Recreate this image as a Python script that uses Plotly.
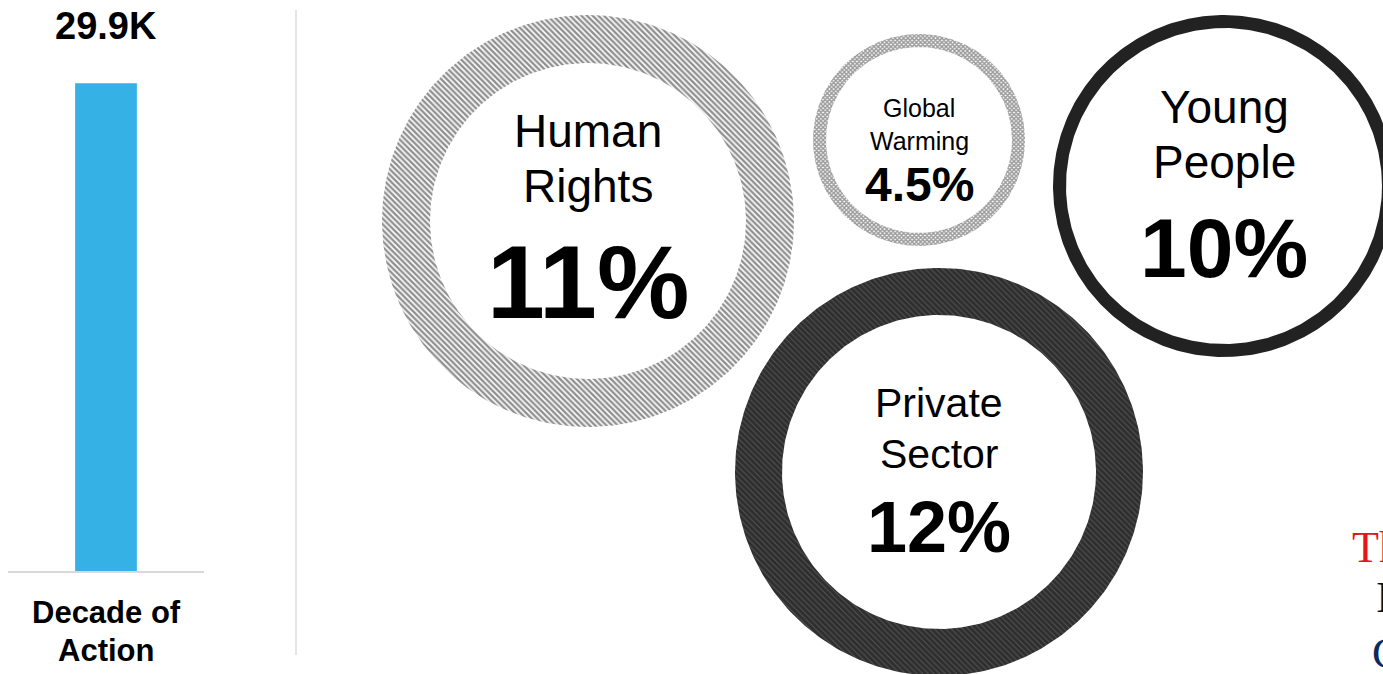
import numpy as np
import plotly.graph_objects as go

W, H = 1383, 674

# ---- data ----
bar_categories = ["Decade of Action"]
bar_values = [29.9]            # thousands
bar_labels = ["29.9K"]

topics = ["Human Rights", "Global Warming", "Young People", "Private Sector"]
topic_pct = [11, 4.5, 10, 12]

side_lines = ["The", "In", "Co"]
side_colors = ["#e8141b", "#111111", "#0d2a5c"]

# ---- layout / style (positions in the pixel-scaled axis) ----
bubble_geom = {
    "Human Rights":   dict(cx=588, cy=221, r=206, ring=48, fs=46, pfs=104, off=(-90, -35, 61)),
    "Global Warming": dict(cx=919, cy=140, r=106, ring=13, fs=25, pfs=48, off=(-32, 1, 44)),
    "Young People":   dict(cx=1224, cy=186, r=171, ring=13, fs=46, pfs=84, off=(-79, -24, 62)),
    "Private Sector": dict(cx=939, cy=472, r=204, ring=47, fs=41, pfs=72, off=(-69, -18, 55)),
}
bubble_style = {
    "Human Rights":   dict(fillcolor="white", fillpattern=dict(shape="\\", fgcolor="#222222", bgcolor="white", size=4, solidity=0.6)),
    "Global Warming": dict(fillcolor="white", fillpattern=dict(shape="x", fgcolor="#333333", bgcolor="white", size=3, solidity=0.7)),
    "Young People":   dict(fillcolor="#222222"),
    "Private Sector": dict(fillcolor="#2e2e2e", fillpattern=dict(shape="\\", fgcolor="#7a7a7a", bgcolor="#2e2e2e", size=4, solidity=0.25)),
}

FONT = "Liberation Sans, Arial, Helvetica, sans-serif"

fig = go.Figure()

# bar chart
fig.add_trace(go.Bar(
    x=bar_categories, y=bar_values, width=0.315,
    marker=dict(color="#35b1e6", line=dict(width=0)),
    xaxis="x", yaxis="y", hoverinfo="skip", showlegend=False,
))

# bubbles (rings drawn as outer circle with reversed inner circle -> hole)
t = np.linspace(0, 2 * np.pi, 361)
annotations = []
for name, pct in zip(topics, topic_pct):
    g = bubble_geom[name]
    ro, ri = g["r"], g["r"] - g["ring"]
    xs = np.concatenate([g["cx"] + ro * np.cos(t), g["cx"] + ri * np.cos(t[::-1])])
    ys = np.concatenate([g["cy"] + ro * np.sin(t), g["cy"] + ri * np.sin(t[::-1])])
    st = bubble_style[name]
    kw = dict(fillcolor=st["fillcolor"])
    if "fillpattern" in st:
        kw["fillpattern"] = st["fillpattern"]
    fig.add_trace(go.Scatter(
        x=xs, y=ys, mode="lines", fill="toself", line=dict(width=0),
        xaxis="x2", yaxis="y2", hoverinfo="skip", showlegend=False, **kw,
    ))
    words = name.split(" ")
    pct_txt = f"{pct:g}%"
    for i, (txt, size, bold) in enumerate([(words[0], g["fs"], False), (words[1], g["fs"], False), (pct_txt, g["pfs"], True)]):
        annotations.append(dict(
            x=g["cx"], y=g["cy"] + g["off"][i], xref="x2", yref="y2",
            text=f"<b>{txt}</b>" if bold else txt, showarrow=False,
            xanchor="center", yanchor="middle",
            font=dict(family=FONT, size=size, color="black"),
        ))

# bar value label and category label
annotations.append(dict(x=bar_categories[0], y=(H - 26) / H, xref="x", yref="paper",
                        text=f"<b>{bar_labels[0]}</b>", showarrow=False,
                        yanchor="middle", font=dict(family=FONT, size=38, color="black")))
cat_words = bar_categories[0].split(" ")
cat_lines = [" ".join(cat_words[:2]), " ".join(cat_words[2:])]
for ln, ypix in zip(cat_lines, [612, 650]):
    annotations.append(dict(x=bar_categories[0], y=(H - ypix) / H, xref="x", yref="paper",
                            text=f"<b>{ln}</b>", showarrow=False, yanchor="middle",
                            font=dict(family=FONT, size=31, color="black")))

# partially visible text at right edge
for ln, col, ypix, xpix in zip(side_lines, side_colors, [547, 597, 653], [1350, 1374, 1370]):
    annotations.append(dict(x=xpix, y=ypix, xref="x2", yref="y2", text=ln, showarrow=False,
                            xanchor="left", yanchor="middle",
                            font=dict(family="Liberation Serif, Times New Roman, serif", size=44, color=col)))

fig.update_layout(
    width=W, height=H, margin=dict(l=0, r=0, t=0, b=0),
    paper_bgcolor="white", plot_bgcolor="rgba(0,0,0,0)",
    showlegend=False, annotations=annotations,
    xaxis=dict(domain=[8 / W, 204 / W], range=[-0.5, 0.5], type="category",
               showline=True, linecolor="#d9d9d9", linewidth=2, showticklabels=False,
               showgrid=False, zeroline=False, ticks="", fixedrange=True),
    yaxis=dict(domain=[(H - 571) / H, 1], range=[0, 35], visible=False, fixedrange=True),
    xaxis2=dict(domain=[0, 1], range=[0, W], visible=False, anchor="y2", fixedrange=True),
    yaxis2=dict(domain=[0, 1], range=[H, 0], visible=False, anchor="x2", fixedrange=True),
    shapes=[dict(type="line", xref="paper", yref="paper", x0=296 / W, x1=296 / W,
                 y0=(H - 655) / H, y1=(H - 10) / H, line=dict(color="#dddddd", width=1.5))],
)

fig.write_html("out.html", config={"displayModeBar": False},
               post_script="document.body.style.margin='0';document.body.style.overflow='hidden';")
